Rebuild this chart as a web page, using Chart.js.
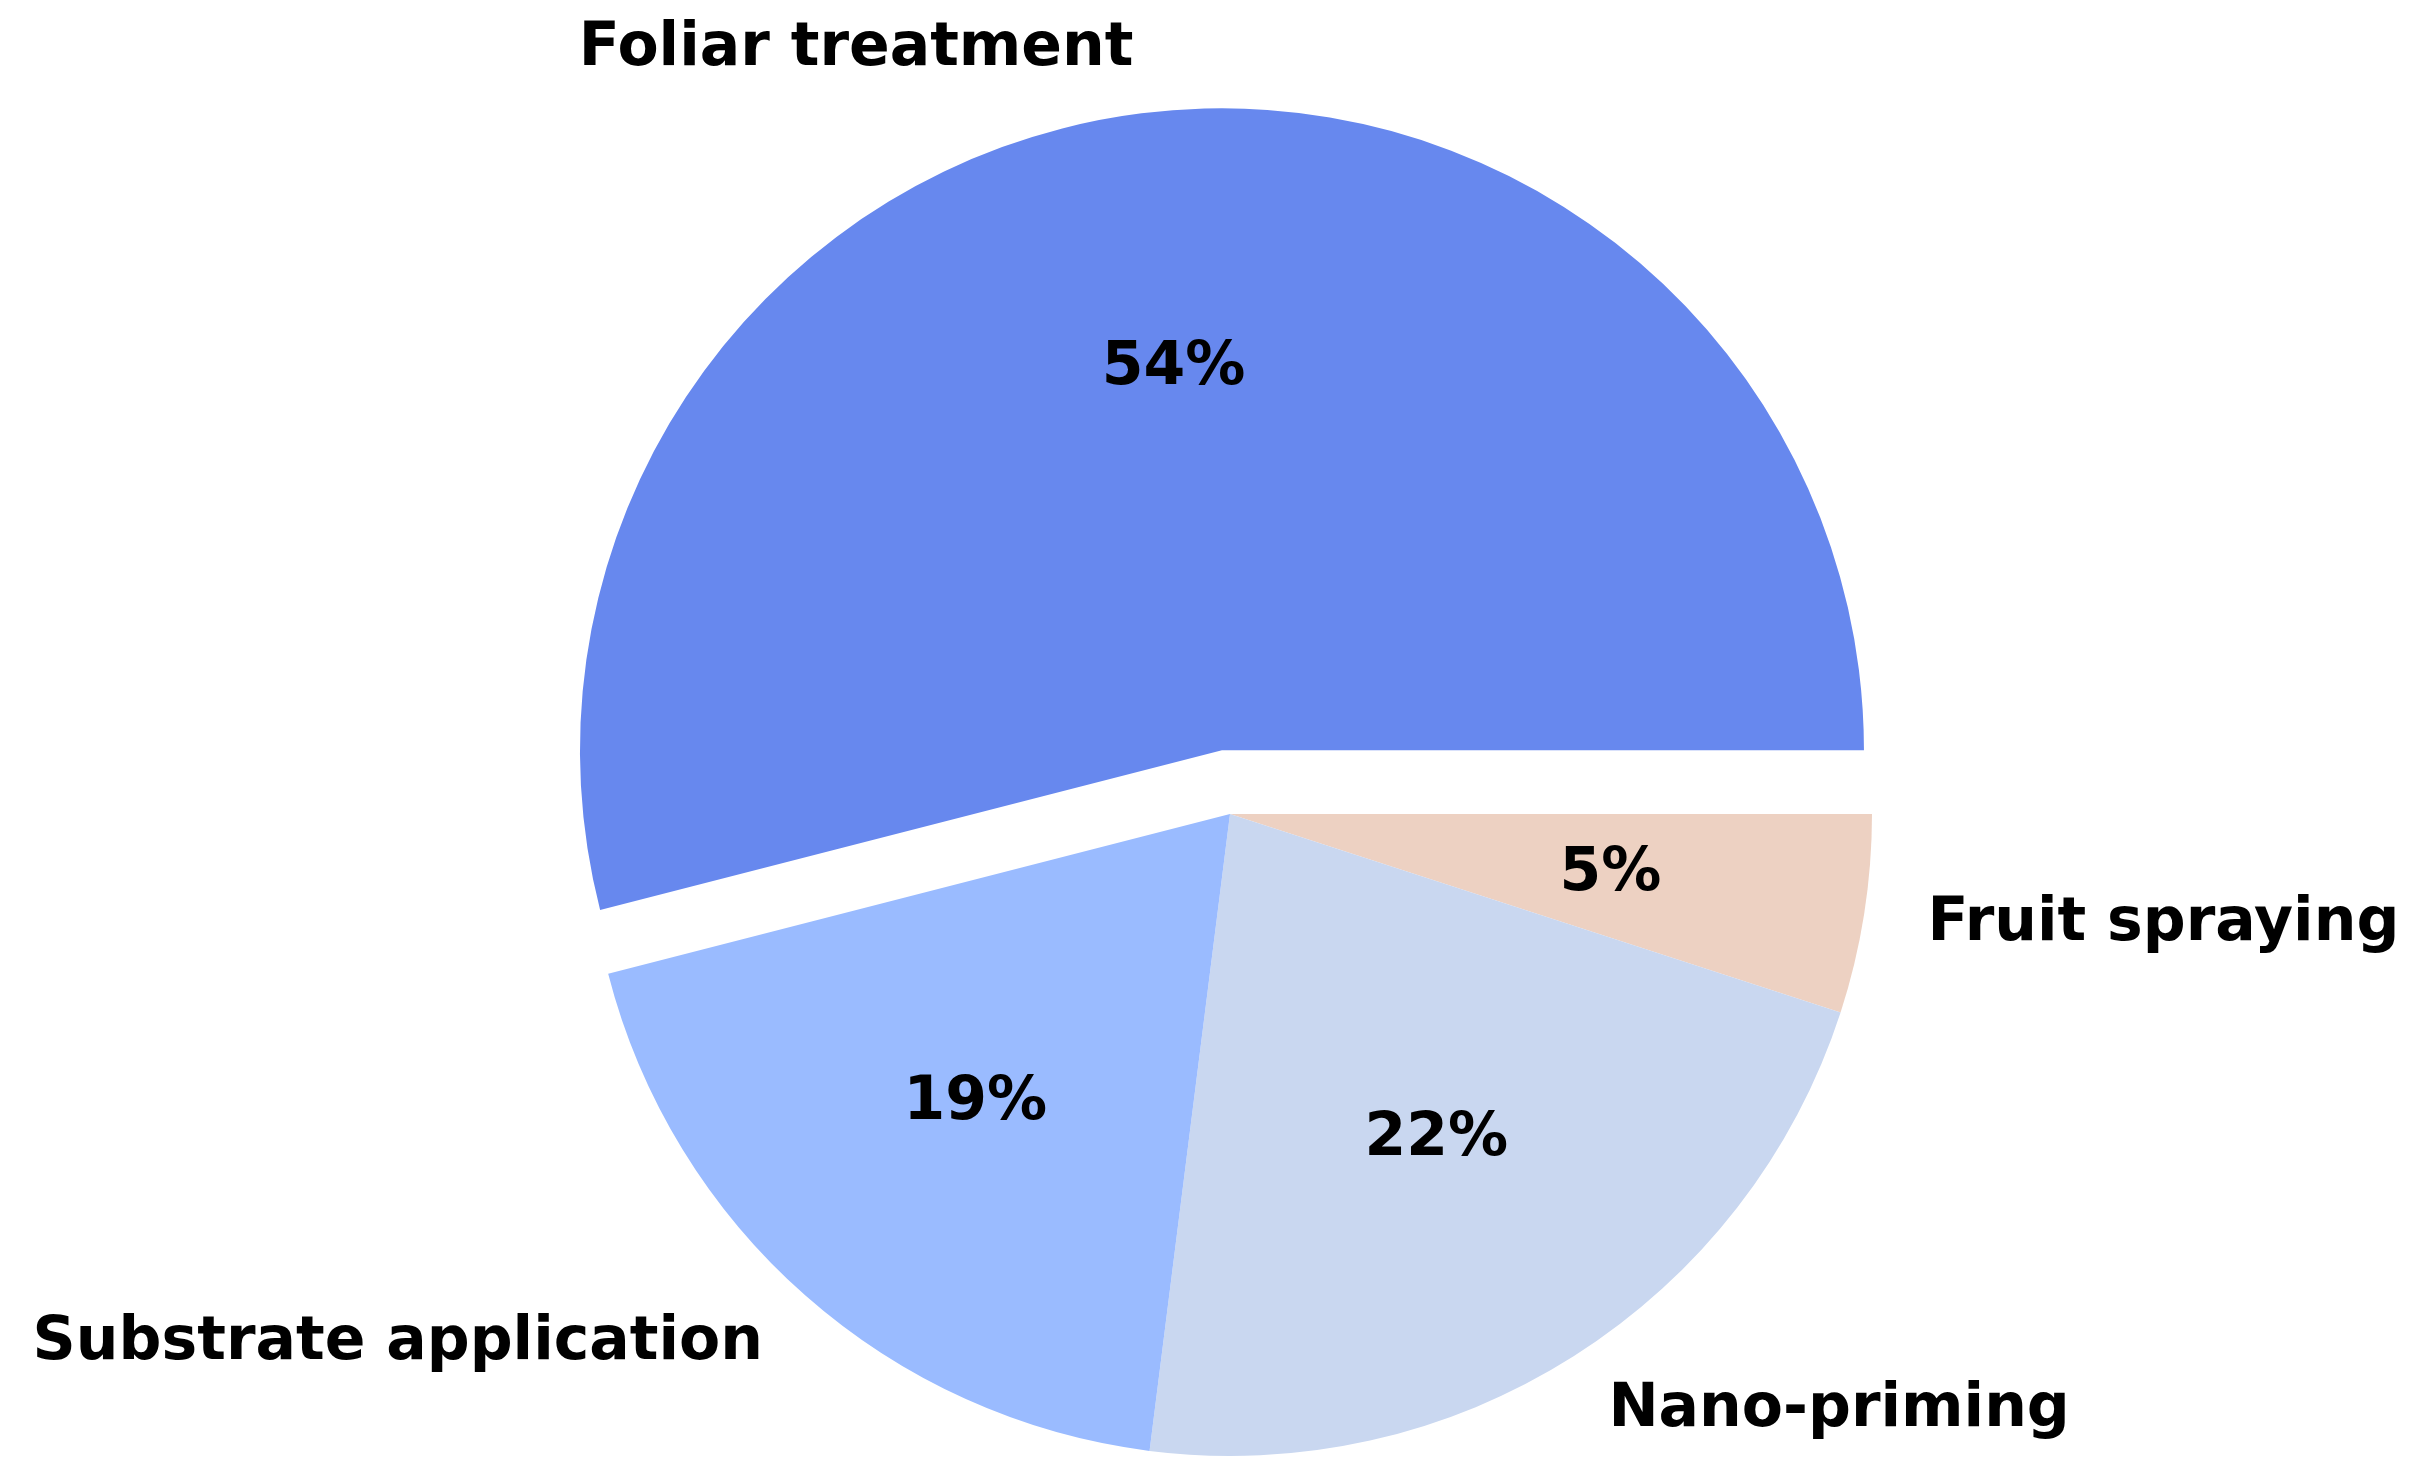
<!DOCTYPE html>
<html>
<head>
<meta charset="utf-8">
<script src="https://cdn.jsdelivr.net/npm/chart.js@4.4.1/dist/chart.umd.min.js"></script>
<style>
  html, body { margin: 0; padding: 0; background: #fff; }
  #wrap { width: 2422px; height: 1476px; }
</style>
</head>
<body>
<div id="wrap"><canvas id="pie"></canvas></div>
<script>
// slices listed clockwise from 3 o'clock (matplotlib draws them counter-clockwise)
const categories = ['Fruit spraying', 'Nano-priming', 'Substrate application', 'Foliar treatment'];
const shares = [5, 22, 19, 54];
const pctLabels = ['5%', '22%', '19%', '54%'];
const colors = ['#EDD1C2', '#C9D7F0', '#9ABBFF', '#6788EE'];
const explode = [0, 0, 0, 0.1];

const FONT = 'bold 60px "DejaVu Sans", sans-serif';

// pull exploded slices out along their middle angle
const explodePlugin = {
  id: 'explode',
  afterDatasetsUpdate(chart) {
    const meta = chart.getDatasetMeta(0);
    meta.data.forEach((arc, i) => {
      if (!explode[i]) return;
      const mid = (arc.startAngle + arc.endAngle) / 2;
      arc.x += Math.cos(mid) * explode[i] * arc.outerRadius;
      arc.y += Math.sin(mid) * explode[i] * arc.outerRadius;
    });
  }
};

const labelPlugin = {
  id: 'pieLabels',
  afterDatasetsDraw(chart) {
    const ctx = chart.ctx;
    const meta = chart.getDatasetMeta(0);
    ctx.save();
    ctx.font = FONT;
    ctx.fillStyle = '#000';
    ctx.textBaseline = 'middle';
    meta.data.forEach((arc, i) => {
      const mid = (arc.startAngle + arc.endAngle) / 2;
      const c = Math.cos(mid), s = Math.sin(mid);
      const r = arc.outerRadius;
      ctx.textAlign = 'center';
      ctx.fillText(pctLabels[i], arc.x + c * r * 0.6, arc.y + s * r * 0.6);
      ctx.textAlign = c > 0 ? 'left' : 'right';
      ctx.fillText(categories[i], arc.x + c * r * 1.1, arc.y + s * r * 1.1);
    });
    ctx.restore();
  }
};

new Chart(document.getElementById('pie'), {
  type: 'pie',
  data: {
    labels: categories,
    datasets: [{
      data: shares,
      backgroundColor: colors,
      borderWidth: 0
    }]
  },
  options: {
    responsive: true,
    maintainAspectRatio: false,
    animation: false,
    rotation: 90,
    layout: { padding: { top: 172, bottom: 20, left: 38, right: 0 } },
    plugins: {
      legend: { display: false },
      tooltip: { enabled: false }
    }
  },
  plugins: [explodePlugin, labelPlugin]
});
</script>
</body>
</html>
